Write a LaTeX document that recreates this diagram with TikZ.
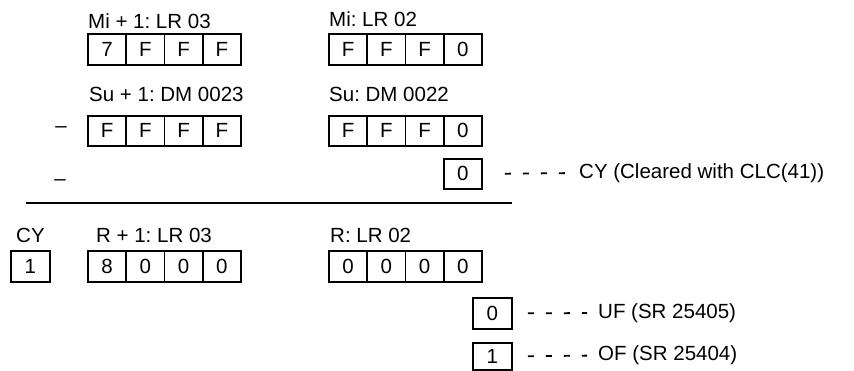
\documentclass[tikz,border=0pt]{standalone}
\usepackage{fontspec}
\setmainfont{Liberation Sans}
\frenchspacing
\begin{document}
\begin{tikzpicture}[x=1pt,y=-1pt,
  cell/.style={draw, line width=1.8pt, minimum width=38.25pt, minimum height=31pt, inner sep=0pt, anchor=north west, font=\fontsize{20.5}{24}\selectfont},
  lbl/.style={inner sep=0pt, anchor=base west, font=\fontsize{20.5}{24}\selectfont},
  txt/.style={inner sep=0pt, anchor=west, font=\fontsize{20.5}{24}\selectfont},
  dashline/.style={line width=1.8pt, dash pattern=on 6pt off 12pt},
  rule/.style={line width=1.8pt}]
\useasboundingbox (0,0) rectangle (854,370);
% Row 1
\node[lbl] (lmi1) at (88,28) {Mi + 1: LR 03};
\node[cell] (a1) at (87,33) {7};
\node[cell] (a2) at (125.25,33) {F};
\node[cell] (a3) at (163.5,33) {F};
\node[cell] (a4) at (201.75,33) {F};
\node[lbl] (lmi) at (329,26) {Mi: LR 02};
\node[cell] (b1) at (328,33) {F};
\node[cell] (b2) at (366.25,33) {F};
\node[cell] (b3) at (404.5,33) {F};
\node[cell] (b4) at (442.75,33) {0};
% Row 2
\node[lbl] (lsu1) at (89,101) {Su + 1: DM 0023};
\node[inner sep=0pt, font=\fontsize{20.5}{24}\selectfont] (m1) at (61,130) {–};
\node[cell, minimum height=30pt] (c1) at (87,115) {F};
\node[cell, minimum height=30pt] (c2) at (125.25,115) {F};
\node[cell, minimum height=30pt] (c3) at (163.5,115) {F};
\node[cell, minimum height=30pt] (c4) at (201.75,115) {F};
\node[lbl] (lsu) at (329,101) {Su: DM 0022};
\node[cell, minimum height=30pt] (d1) at (328,115) {F};
\node[cell, minimum height=30pt] (d2) at (366.25,115) {F};
\node[cell, minimum height=30pt] (d3) at (404.5,115) {F};
\node[cell, minimum height=30pt] (d4) at (442.75,115) {0};
% Row 3
\node[inner sep=0pt, font=\fontsize{20.5}{24}\selectfont] (m2) at (60,183) {–};
\node[cell, minimum height=30pt] (cy0) at (442.75,158) {0};
\node[txt] (tcy) at (579,173) {CY (Cleared with CLC(41))};
\draw[dashline, shorten <=22pt, shorten >=14pt] (cy0.east) -- (tcy.west);
% Rule
\coordinate (r1) at (26,203);
\coordinate (r2) at (512,203);
\draw[rule] (r1) -- (r2);
% Row 4
\node[lbl] (lcy) at (16,242) {CY};
\node[cell, minimum width=39pt] (cy1) at (10,250) {1};
\node[lbl] (lr1) at (96,242) {R + 1: LR 03};
\node[cell] (e1) at (87,250) {8};
\node[cell] (e2) at (125.25,250) {0};
\node[cell] (e3) at (163.5,250) {0};
\node[cell] (e4) at (201.75,250) {0};
\node[lbl] (lr) at (330,242) {R: LR 02};
\node[cell] (f1) at (328,250) {0};
\node[cell] (f2) at (366.25,250) {0};
\node[cell] (f3) at (404.5,250) {0};
\node[cell] (f4) at (442.75,250) {0};
% Row 5
\node[cell, minimum width=39pt] (uf) at (472,297) {0};
\node[txt] (tuf) at (598,313) {UF (SR 25405)};
\draw[dashline, shorten <=15pt, shorten >=11pt] (uf.east) -- (tuf.west);
\node[cell, minimum width=39pt, minimum height=27pt] (of) at (472,342) {1};
\node[txt] (tof) at (598,355.5) {OF (SR 25404)};
\draw[dashline, shorten <=15pt, shorten >=11pt] (of.east) -- (tof.west);
\end{tikzpicture}
\end{document}
